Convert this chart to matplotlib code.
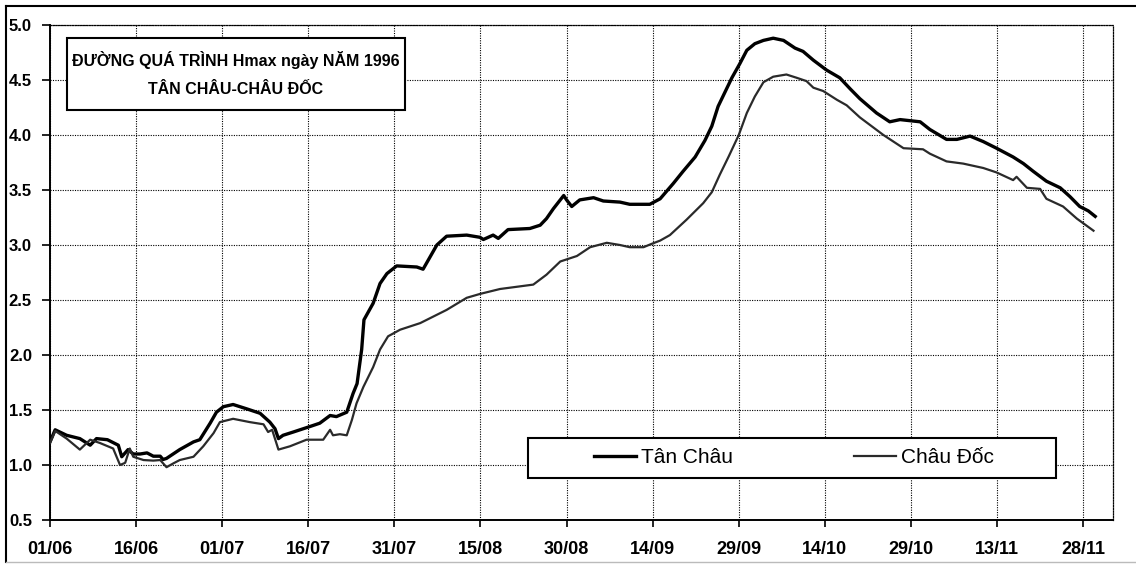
import pandas as pd
import numpy as np
import matplotlib
matplotlib.use('Agg')
import matplotlib.pyplot as plt
from matplotlib.patches import Rectangle
from matplotlib.lines import Line2D

plt.rcParams['font.family'] = ['Liberation Sans', 'DejaVu Sans']

# days counted from 01/06/1996, values in m
tc_days = [0, 0.9, 2.9, 5.2, 7, 8.1, 10, 11.9, 12.5, 13.6, 14.5, 15.7, 16.9, 18.0, 19.2,
           19.7, 20.3, 22.6, 25, 26.1, 27.9, 29.0, 30.2, 31.9, 34.3, 36.6, 38.3, 39.2, 39.8,
           40.6, 42.4, 45.3, 47.0, 48.8, 49.9, 51.7, 52.8, 53.5, 54.3, 54.7, 56.3, 57.5, 58.7,
           60.4, 63.9, 65.0, 66.2, 67.4, 69.1, 72.6, 74.9, 75.5, 77.2, 78.1, 79.8, 83.6, 85.4,
           86.5, 87.7, 89.5, 90.0, 90.9, 92.3, 94.7, 96.4, 99.3, 101.0, 104.5, 106.3, 108.6,
           110.3, 112.4, 114.1, 115.3, 116.4, 117.6, 118.8, 120.2, 121.4, 122.8, 124.3, 126.0,
           127.8, 129.8, 131.2, 133.0, 135.3, 137.6, 139.4, 141.1, 144.0, 146.3, 148.1, 151.6,
           153.3, 156.2, 158.0, 160.3, 162.6, 164.9, 167.8, 169.6, 171.3, 173.6, 176.0, 177.7,
           179.4, 180.9, 182.1]
tan_chau = [1.21, 1.32, 1.27, 1.24, 1.18, 1.24, 1.23, 1.18, 1.075, 1.14, 1.10, 1.10, 1.11, 1.08, 1.08,
            1.05, 1.06, 1.14, 1.21, 1.23, 1.38, 1.48, 1.53, 1.55, 1.51, 1.47, 1.39, 1.33, 1.24,
            1.27, 1.30, 1.35, 1.38, 1.45, 1.44, 1.48, 1.65, 1.74, 2.05, 2.32, 2.47, 2.65, 2.74,
            2.81, 2.80, 2.78, 2.89, 3.00, 3.08, 3.09, 3.07, 3.05, 3.09, 3.06, 3.14, 3.15, 3.18,
            3.24, 3.33, 3.45, 3.41, 3.35, 3.41, 3.43, 3.40, 3.39, 3.37, 3.37, 3.42, 3.56,
            3.67, 3.80, 3.95, 4.08, 4.26, 4.39, 4.52, 4.65, 4.77, 4.83, 4.86, 4.88,
            4.86, 4.79, 4.76, 4.68, 4.59, 4.52, 4.42, 4.33, 4.20, 4.12, 4.14, 4.12,
            4.05, 3.96, 3.96, 3.99, 3.94, 3.88, 3.80, 3.74, 3.67, 3.58, 3.52, 3.44,
            3.35, 3.31, 3.26]

cd_days = [0, 0.9, 2.9, 5.2, 7, 8.7, 11.0, 12.2, 13.1, 13.9, 14.5, 16.3, 18.0, 19.2, 20.3,
           21.5, 22.6, 25, 26.7, 28.5, 29.6, 31.9, 34.8, 37.2, 38.0, 38.7, 39.8, 41.8, 44.7,
           47.6, 48.8, 49.3, 50.5, 51.7, 52.6, 53.4, 54.6, 56.3, 57.5, 58.9, 61.0, 64.5, 69.1,
           72.6, 74.9, 78.4, 81.3, 84.2, 86.5, 88.9, 91.8, 94.1, 97.0, 99.3, 101.0, 103.4,
           104.8, 106.3, 108.0, 110.9, 113.8, 115.3, 116.7, 118.2, 120.0, 121.4, 122.8, 124.3,
           126.0, 128.3, 130.1, 131.8, 133.0, 134.7, 137.1, 138.8, 141.1, 145.2, 148.7, 152.1,
           153.3, 156.2, 159.1, 162.6, 164.9, 167.8, 168.4, 170.2, 172.5, 173.6, 176.5, 178.9,
           181.8]
chau_doc = [1.20, 1.31, 1.24, 1.14, 1.23, 1.20, 1.15, 1.00, 1.02, 1.15, 1.075, 1.045, 1.04, 1.045, 0.98,
            1.015, 1.045, 1.075, 1.17, 1.29, 1.39, 1.42, 1.39, 1.37, 1.30, 1.32, 1.14, 1.17, 1.23,
            1.23, 1.32, 1.27, 1.28, 1.27, 1.41, 1.56, 1.71, 1.89, 2.05, 2.17, 2.23, 2.29, 2.41,
            2.52, 2.555, 2.60, 2.62, 2.64, 2.73, 2.85, 2.90, 2.98, 3.02, 3.00, 2.98, 2.98,
            3.01, 3.04, 3.09, 3.23, 3.38, 3.48, 3.64, 3.80, 4.00, 4.20, 4.35, 4.48,
            4.53, 4.55, 4.52, 4.49, 4.43, 4.40, 4.32, 4.27, 4.16, 4.00, 3.88, 3.87,
            3.83, 3.76, 3.74, 3.70, 3.66, 3.59, 3.62, 3.52, 3.51, 3.42, 3.35, 3.24,
            3.13]

tick_labels = ['01/06', '16/06', '01/07', '16/07', '31/07', '15/08', '30/08',
               '14/09', '29/09', '14/10', '29/10', '13/11', '28/11']
y_ticks = [0.5, 1.0, 1.5, 2.0, 2.5, 3.0, 3.5, 4.0, 4.5, 5.0]

title_lines = ['ĐƯỜNG QUÁ TRÌNH Hmax ngày NĂM 1996', 'TÂN CHÂU-CHÂU ĐỐC']
series_names = ['Tân Châu', 'Châu Đốc']

start = pd.Timestamp('1996-06-01')
tc_dates = start + pd.to_timedelta(tc_days, unit='D')
cd_dates = start + pd.to_timedelta(cd_days, unit='D')
tick_dates = pd.date_range(start, periods=len(tick_labels), freq='15D')

fig = plt.figure(figsize=(11.36, 5.66), dpi=100)
ax = fig.add_axes([50 / 1136, 46 / 566, 1063 / 1136, 495 / 566])

ax.plot(tc_dates, tan_chau, color='black', lw=2.4, label=series_names[0], zorder=3,
        solid_joinstyle='round')
ax.plot(cd_dates, chau_doc, color='#2a2a2a', lw=1.6, label=series_names[1], zorder=3,
        solid_joinstyle='round')

ax.set_xlim(start, start + pd.Timedelta(days=185.2))
ax.set_ylim(0.5, 5.0)
ax.set_xticks(tick_dates)
ax.set_xticklabels(tick_labels, fontsize=13, fontweight='bold')
ax.set_yticks(y_ticks)
ax.set_yticklabels([f'{v:.1f}' for v in y_ticks], fontsize=12, fontweight='bold')
ax.tick_params(axis='x', direction='out', length=5, width=1.2, pad=10)
ax.tick_params(axis='y', direction='out', length=6, width=1.2, pad=7)

ax.grid(True, color='black', linestyle=(0, (1, 1.2)), linewidth=0.8)
for s in ['left', 'bottom']:
    ax.spines[s].set_linewidth(1.4)
for s in ['top', 'right']:
    ax.spines[s].set_linestyle((0, (1, 1.2)))
    ax.spines[s].set_linewidth(0.9)

# title box
ax.add_patch(Rectangle((0.016, 0.828), 0.318, 0.146, transform=ax.transAxes,
                       facecolor='white', edgecolor='black', lw=1.5, zorder=4))
ax.text(0.175, 0.929, title_lines[0], transform=ax.transAxes, ha='center', va='center',
        fontsize=11.5, fontweight='bold', zorder=5)
ax.text(0.175, 0.870, title_lines[1], transform=ax.transAxes, ha='center', va='center',
        fontsize=11.5, fontweight='bold', zorder=5)

# legend box
ax.add_patch(Rectangle((0.4497, 0.0848), 0.4967, 0.0809, transform=ax.transAxes,
                       facecolor='white', edgecolor='black', lw=1.5, zorder=4))
leg = ax.legend(loc='center', bbox_to_anchor=(0.700, 0.1253), ncol=2, frameon=False,
                fontsize=15, handlelength=2.0, handletextpad=0.25, columnspacing=5.8,
                borderpad=0.2)
leg.set_zorder(5)

# chart area border
fig.add_artist(Line2D([6 / 1136, 1.0], [1 - 6 / 566] * 2, color='black', lw=1.5))
fig.add_artist(Line2D([6 / 1136] * 2, [1 - 6 / 566, 4 / 566], color='black', lw=1.5))
fig.add_artist(Line2D([6 / 1136, 1.0], [4 / 566] * 2, color='#bbbbbb', lw=1.0))

fig.savefig('out.png', dpi=100)
